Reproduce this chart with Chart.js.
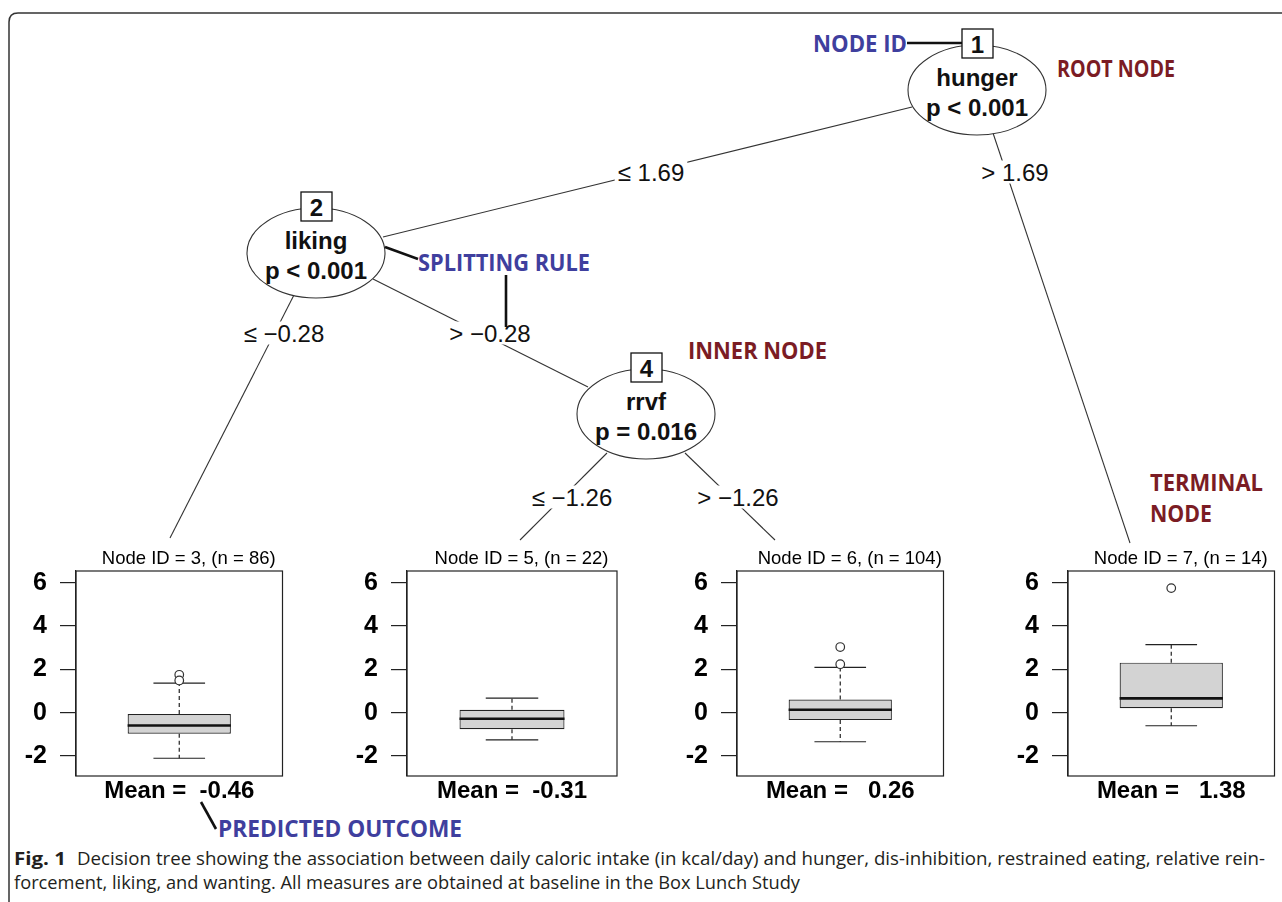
<!DOCTYPE html>
<html>
<head>
<meta charset="utf-8">
<title>Decision tree</title>
<script src="https://cdn.jsdelivr.net/npm/chart.js@4.4.0/dist/chart.umd.min.js"></script>
<style>
  html, body { margin: 0; padding: 0; background: #fff; }
  #page { position: relative; width: 1282px; height: 902px; overflow: hidden; }
  #tree { position: absolute; left: 0; top: 0; }
  canvas.panel { position: absolute; }
</style>
</head>
<body>
<div id="page">
  <svg id="tree" width="1282" height="902" xmlns="http://www.w3.org/2000/svg"></svg>
  <canvas class="panel" id="node3" width="272" height="265" style="left:16px;top:540px"></canvas>
  <canvas class="panel" id="node5" width="272" height="265" style="left:347px;top:540px"></canvas>
  <canvas class="panel" id="node6" width="272" height="265" style="left:677px;top:540px"></canvas>
  <canvas class="panel" id="node7" width="272" height="265" style="left:1008px;top:540px"></canvas>
</div>
<script>
// terminal nodes
const nodeIds = [3, 5, 6, 7];
const nodeN = [86, 22, 104, 14];
const nodeMeans = [-0.46, -0.31, 0.26, 1.38];
const q1 = [-0.97, -0.76, -0.34, 0.21];
const medians = [-0.59, -0.28, 0.14, 0.66];
const q3 = [-0.06, 0.14, 0.61, 2.31];
const whiskerLow = [-2.10, -1.25, -1.34, -0.60];
const whiskerHigh = [1.37, 0.67, 2.09, 3.14];
const outliers = [[1.75, 1.49], [], [3.03, 2.24], [5.75]];
const yTicks = [-2, 0, 2, 4, 6];
const yMin = -2.92, yMax = 6.54;

// inner nodes
const innerIds = [1, 2, 4];
const splitVars = ['hunger', 'liking', 'rrvf'];
const pValues = ['p < 0.001', 'p < 0.001', 'p = 0.016'];
const splitPoints = [1.69, -0.28, -1.26];

const RFONT = '"Liberation Sans", Arial, sans-serif';
const ANNOT = '"Open Sans", "DejaVu Sans", sans-serif';

function fmtSplit(v) {
  return v < 0 ? '\u2212' + Math.abs(v).toFixed(2) : v.toFixed(2);
}
function meanText(v) {
  return 'Mean = ' + v.toFixed(2).padStart(6, ' ');
}

// ---------- box plots ----------
const whiskers = {
  id: 'whiskers',
  beforeDatasetsDraw(chart) {
    const i = chart.options.plugins.whiskers.node;
    const y = chart.scales.y, ctx = chart.ctx;
    const bar = chart.getDatasetMeta(0).data[0];
    const cx = bar.x, cap = bar.width / 4;
    ctx.save();
    ctx.strokeStyle = '#222';
    ctx.lineWidth = 1.2;
    ctx.setLineDash([4, 3]);
    ctx.beginPath();
    ctx.moveTo(cx, y.getPixelForValue(q3[i]));
    ctx.lineTo(cx, y.getPixelForValue(whiskerHigh[i]));
    ctx.moveTo(cx, y.getPixelForValue(q1[i]));
    ctx.lineTo(cx, y.getPixelForValue(whiskerLow[i]));
    ctx.stroke();
    ctx.setLineDash([]);
    ctx.beginPath();
    [whiskerHigh[i], whiskerLow[i]].forEach(v => {
      const py = y.getPixelForValue(v);
      ctx.moveTo(cx - cap, py);
      ctx.lineTo(cx + cap, py);
    });
    ctx.stroke();
    ctx.restore();
  },
  afterDatasetsDraw(chart) {
    const i = chart.options.plugins.whiskers.node;
    const a = chart.chartArea, y = chart.scales.y, ctx = chart.ctx;
    const bar = chart.getDatasetMeta(0).data[0];
    const cx = bar.x, half = bar.width / 2;
    ctx.save();
    ctx.strokeStyle = '#111';
    ctx.lineWidth = 2.6;
    const pm = y.getPixelForValue(medians[i]);
    ctx.beginPath();
    ctx.moveTo(cx - half, pm);
    ctx.lineTo(cx + half, pm);
    ctx.stroke();
    ctx.strokeStyle = '#222';
    ctx.lineWidth = 1.2;
    ctx.strokeRect(a.left, a.top, a.width, a.height);
    ctx.fillStyle = '#000';
    ctx.textAlign = 'center';
    ctx.textBaseline = 'middle';
    ctx.font = '18.5px ' + RFONT;
    ctx.fillText('Node ID = ' + nodeIds[i] + ', (n = ' + nodeN[i] + ')', cx + 9.5, a.top - 12);
    ctx.font = 'bold 24px ' + RFONT;
    ctx.fillText(meanText(nodeMeans[i]), cx, a.bottom + 15);
    ctx.restore();
  }
};

nodeIds.forEach((id, i) => {
  const ctx = document.getElementById('node' + id).getContext('2d');
  new Chart(ctx, {
    type: 'bar',
    data: {
      labels: ['Node ' + id],
      datasets: [
        {
          type: 'bar',
          data: [[q1[i], q3[i]]],
          backgroundColor: '#d3d3d3',
          borderColor: '#222',
          borderWidth: 1.2,
          borderSkipped: false,
          barPercentage: 0.5,
          categoryPercentage: 1,
          order: 2
        },
        {
          type: 'line',
          showLine: false,
          data: outliers[i].map(v => ({ x: 0, y: v })),
          pointRadius: 4.3,
          pointBackgroundColor: '#fff',
          pointBorderColor: '#333',
          pointBorderWidth: 1.2,
          order: 1
        }
      ]
    },
    options: {
      responsive: false,
      animation: false,
      events: [],
      layout: { padding: { top: 31, right: 2, bottom: 29, left: 0 } },
      plugins: {
        legend: { display: false },
        tooltip: { enabled: false },
        whiskers: { node: i }
      },
      scales: {
        x: { display: false },
        y: {
          min: yMin,
          max: yMax,
          afterBuildTicks: s => { s.ticks = yTicks.map(v => ({ value: v })); },
          afterFit: s => { s.width = 60; s.paddingTop = 0; s.paddingBottom = 0; },
          grid: { drawOnChartArea: false, drawTicks: true, tickLength: 16, color: '#222', lineWidth: 1.2 },
          border: { display: true, color: '#222', width: 1.2 },
          ticks: { padding: 13, color: '#000', font: { family: RFONT, size: 25, weight: 'bold' } }
        }
      }
    },
    plugins: [whiskers]
  });
});

// ---------- tree ----------
const svg = document.getElementById('tree');
const NS = 'http://www.w3.org/2000/svg';
function el(tag, attrs, text) {
  const e = document.createElementNS(NS, tag);
  for (const k in attrs) e.setAttribute(k, attrs[k]);
  if (text !== undefined) e.textContent = text;
  svg.appendChild(e);
  return e;
}

// frame of the figure
el('path', { d: 'M9 902 L9 22 Q9 13 18 13 L1282 13', fill: 'none', stroke: '#333', 'stroke-width': 1.5 });

const nodePos = [[977, 90], [316, 253], [646, 414]];
const edges = [
  { from: [912, 107], to: [383, 237], node: 0, left: true, at: [651, 172] },
  { from: [993, 133], to: [1130, 543], node: 0, left: false, at: [1015, 172] },
  { from: [295, 293], to: [170, 538], node: 1, left: true, at: [284, 333] },
  { from: [373, 279], to: [588, 387], node: 1, left: false, at: [490, 333] },
  { from: [607, 453], to: [520, 540], node: 2, left: true, at: [572, 497] },
  { from: [685, 453], to: [775, 540], node: 2, left: false, at: [738, 497] }
];

edges.forEach(e => {
  el('line', { x1: e.from[0], y1: e.from[1], x2: e.to[0], y2: e.to[1], stroke: '#333', 'stroke-width': 1.1 });
});
edges.forEach(e => {
  const txt = (e.left ? '\u2264 ' : '> ') + fmtSplit(splitPoints[e.node]);
  const bg = el('rect', { fill: '#fff' });
  const t = el('text', { x: e.at[0], y: e.at[1], 'text-anchor': 'middle', 'dominant-baseline': 'central',
    'font-family': RFONT, 'font-size': 24, fill: '#111' }, txt);
  const b = t.getBBox();
  bg.setAttribute('x', b.x - 3); bg.setAttribute('y', b.y + 2);
  bg.setAttribute('width', b.width + 6); bg.setAttribute('height', b.height - 4);
});

nodePos.forEach((p, k) => {
  el('ellipse', { cx: p[0], cy: p[1], rx: 69, ry: 45, fill: '#fff', stroke: '#333', 'stroke-width': 1.1 });
  el('rect', { x: p[0] - 15, y: p[1] - 61, width: 31, height: 29, fill: '#fff', stroke: '#111', 'stroke-width': 1.3 });
  el('text', { x: p[0] + 0.5, y: p[1] - 46, 'text-anchor': 'middle', 'dominant-baseline': 'central',
    'font-family': RFONT, 'font-size': 24, 'font-weight': 'bold', fill: '#111' }, String(innerIds[k]));
  el('text', { x: p[0], y: p[1] - 13, 'text-anchor': 'middle', 'dominant-baseline': 'central',
    'font-family': RFONT, 'font-size': 24, 'font-weight': 'bold', fill: '#111' }, splitVars[k]);
  el('text', { x: p[0], y: p[1] + 17, 'text-anchor': 'middle', 'dominant-baseline': 'central',
    'font-family': RFONT, 'font-size': 24, 'font-weight': 'bold', fill: '#111' }, pValues[k]);
});

// annotations
const BLUE = '#3f3f9e', RED = '#7b1c24';
function annot(text, x, y, w, color) {
  el('text', { x: x, y: y, 'dominant-baseline': 'central', 'font-family': ANNOT, 'font-size': 23,
    'font-weight': 'bold', fill: color, textLength: w, lengthAdjust: 'spacingAndGlyphs' }, text);
}
annot('NODE ID', 813, 43, 94, BLUE);
annot('ROOT NODE', 1057, 68, 118, RED);
annot('SPLITTING RULE', 418, 262, 172, BLUE);
annot('INNER NODE', 688, 350, 139, RED);
annot('TERMINAL', 1150, 482, 113, RED);
annot('NODE', 1150, 513, 62, RED);
annot('PREDICTED OUTCOME', 218, 828, 244, BLUE);

function pointer(x1, y1, x2, y2) {
  el('line', { x1: x1, y1: y1, x2: x2, y2: y2, stroke: '#111', 'stroke-width': 2.6 });
}
pointer(907, 43, 962, 43);
pointer(385, 247, 418, 259);
pointer(506, 275, 506, 327);
pointer(201, 802, 216, 829);

// caption
el('text', { x: 14, y: 858, 'dominant-baseline': 'central', 'font-family': ANNOT, 'font-size': 18,
  'font-weight': 'bold', fill: '#231f20', textLength: 52, lengthAdjust: 'spacingAndGlyphs' }, 'Fig. 1');
el('text', { x: 77, y: 858, 'dominant-baseline': 'central', 'font-family': ANNOT, 'font-size': 18,
  fill: '#231f20', textLength: 1188, lengthAdjust: 'spacingAndGlyphs' },
  'Decision tree showing the association between daily caloric intake (in kcal/day) and hunger, dis-inhibition, restrained eating, relative rein-');
el('text', { x: 14, y: 882, 'dominant-baseline': 'central', 'font-family': ANNOT, 'font-size': 18,
  fill: '#231f20', textLength: 786, lengthAdjust: 'spacingAndGlyphs' },
  'forcement, liking, and wanting. All measures are obtained at baseline in the Box Lunch Study');
</script>
</body>
</html>
